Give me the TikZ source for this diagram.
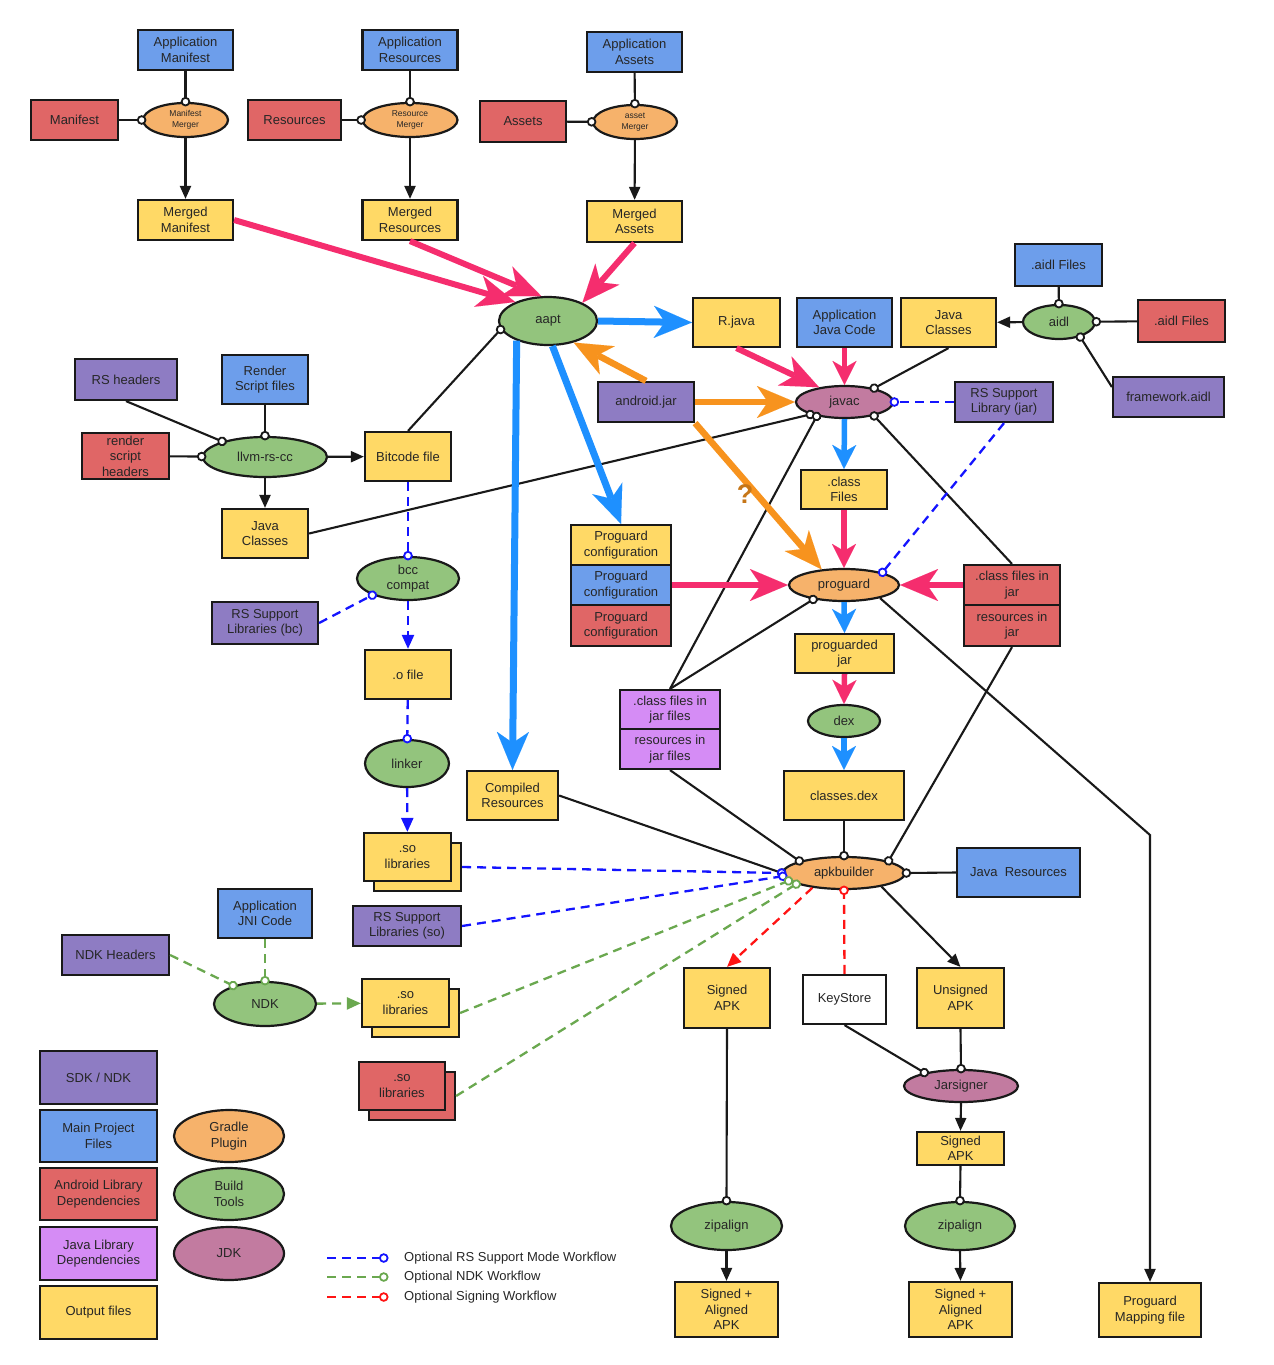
\documentclass[tikz,border=0pt]{standalone}
\usepackage{fontspec}
\setmainfont{Liberation Sans}
\usetikzlibrary{shapes.geometric,arrows.meta}
\definecolor{cBlue}{RGB}{109,158,235}
\definecolor{cRed}{RGB}{224,102,102}
\definecolor{cYel}{RGB}{255,217,102}
\definecolor{cPur}{RGB}{142,124,195}
\definecolor{cLPur}{RGB}{213,140,245}
\definecolor{cOrg}{RGB}{246,178,107}
\definecolor{cGrn}{RGB}{147,196,125}
\definecolor{cMauve}{RGB}{194,123,160}
\definecolor{aPink}{RGB}{245,45,110}
\definecolor{aBlue}{RGB}{30,144,255}
\definecolor{aOrg}{RGB}{247,147,30}
\definecolor{dBlue}{RGB}{20,20,255}
\definecolor{dGreen}{RGB}{106,168,79}
\definecolor{dRed}{RGB}{255,20,20}
\definecolor{lineC}{RGB}{25,25,25}
\newcommand\myfs{\fontsize{13}{15.5}\selectfont}
\newcommand\mysm{\fontsize{8.5}{10.5}\selectfont}
\begin{document}
\begin{tikzpicture}[x=1pt,y=-1pt,
  sz/.style 2 args={minimum width=#1pt,minimum height=#2pt},
  box/.style={draw=lineC,line width=2.2pt,rectangle,inner sep=0pt,align=center,font=\myfs,text=black!85},
  bluebox/.style={box,fill=cBlue},
  redbox/.style={box,fill=cRed},
  yelbox/.style={box,fill=cYel},
  purbox/.style={box,fill=cPur},
  lpurbox/.style={box,fill=cLPur},
  whitebox/.style={box,fill=white},
  proc/.style={draw=lineC,line width=2.2pt,ellipse,inner sep=0pt,align=center,font=\myfs,text=black!85},
  orgproc/.style={proc,fill=cOrg},
  grnproc/.style={proc,fill=cGrn},
  mauproc/.style={proc,fill=cMauve},
  conn/.style={draw=lineC,line width=2.1pt},
  ocirc/.style={-{Circle[length=9.5pt,fill=white,line width=1.8pt]},shorten >=-4.5pt},
  tri/.style={-{Triangle[length=13pt,width=11pt]}},
  inp/.style={conn,ocirc},
  outp/.style={conn,tri},
  fat/.style={line width=6pt,-{Stealth[length=38pt,width=32pt,inset=11pt,line width=0.01pt]}},
  fatsm/.style={line width=5.5pt,-{Stealth[length=24pt,width=24pt,inset=7pt,line width=0.01pt]}},
  fatpink/.style={fat,color=aPink},
  fatpinks/.style={fatsm,color=aPink},
  fatblue/.style={fat,color=aBlue,line width=7pt},
  fatblues/.style={fatsm,color=aBlue},
  fatorg/.style={fat,color=aOrg,line width=6.5pt},
  dsh/.style={line width=2.3pt,dash pattern=on 9pt off 6pt},
  bluedash/.style={dsh,draw=dBlue},
  greendash/.style={dsh,draw=dGreen},
  reddash/.style={dsh,draw=dRed},
  dtri/.style={-{Triangle[length=14pt,width=12pt]}}
]
\useasboundingbox (0,0) rectangle (1274,1365);

% ---------- top row
\node[bluebox,sz={95}{40}] (appman) at (185.5,50) {Application\\Manifest};
\node[bluebox,sz={95}{40}] (appres) at (410,50) {Application\\Resources};
\node[bluebox,sz={95}{40}] (appass) at (634.5,52) {Application\\Assets};
\node[redbox,sz={87}{40}] (manif) at (74.5,120) {Manifest};
\node[orgproc,sz={85}{34},font=\mysm] (mmerg) at (185.5,120) {Manifest\\Merger};
\node[redbox,sz={93}{40}] (resrc) at (294.5,120) {Resources};
\node[orgproc,sz={95}{34},font=\mysm] (rmerg) at (410,120) {Resource\\Merger};
\node[redbox,sz={86}{41}] (assets) at (523,121.5) {Assets};
\node[orgproc,sz={84}{34},font=\mysm] (amerg) at (635,122) {asset\\Merger};
\node[yelbox,sz={95}{40}] (mman) at (185.5,220) {Merged\\Manifest};
\node[yelbox,sz={95}{40}] (mres) at (410,220) {Merged\\Resources};
\node[yelbox,sz={95}{41}] (mass) at (634.5,221.5) {Merged\\Assets};

% ---------- aapt / javac area
\node[grnproc,sz={98}{48}] (aapt) at (548,321) {aapt};
\node[yelbox,sz={87}{49}] (rjava) at (736.5,322.5) {R.java};
\node[bluebox,sz={95}{49}] (ajc) at (844.5,322.5) {Application\\Java Code};
\node[yelbox,sz={95}{49}] (jcls2) at (948.5,322.5) {Java\\Classes};
\node[bluebox,sz={87}{42}] (aidlb) at (1058.5,265) {.aidl Files};
\node[grnproc,sz={72}{34}] (aidl) at (1059,322) {aidl};
\node[redbox,sz={87}{42}] (aidlr) at (1181.5,321) {.aidl Files};
\node[purbox,sz={111}{40}] (fwaidl) at (1168.5,397) {framework.aidl};
\node[purbox,sz={96}{40}] (ajar) at (646,402) {android.jar};
\node[mauproc,sz={97}{32}] (javac) at (844.5,402) {javac};
\node[purbox,sz={98}{40}] (rsjar) at (1004,402) {RS Support\\Library (jar)};

% ---------- RenderScript
\node[purbox,sz={102}{41}] (rsh) at (126,379.5) {RS headers};
\node[bluebox,sz={86}{49}] (rsf) at (265,379.5) {Render\\Script files};
\node[redbox,sz={87}{46}] (rsth) at (125.5,456) {render\\script\\headers};
\node[grnproc,sz={124}{40}] (llvm) at (265,457) {llvm-rs-cc};
\node[yelbox,sz={86}{49}] (bitc) at (408,456.5) {Bitcode file};
\node[yelbox,sz={86}{49}] (jcls1) at (265,533.5) {Java\\Classes};
\node[grnproc,sz={102}{43}] (bcc) at (408,578.5) {bcc\\compat};
\node[purbox,sz={106}{42}] (rsbc) at (265,623) {RS Support\\Libraries (bc)};
\node[yelbox,sz={86}{49}] (ofile) at (408,674.5) {.o file};
\node[grnproc,sz={84}{47}] (linker) at (407,763.5) {linker};

% ---------- proguard / dex
\node[yelbox,sz={86}{39}] (cfiles) at (844,489.5) {.class\\Files};
\node[yelbox,sz={100}{40}] (pc1) at (621,545) {Proguard\\configuration};
\node[bluebox,sz={100}{40}] (pc2) at (621,585) {Proguard\\configuration};
\node[redbox,sz={100}{41}] (pc3) at (621,625.5) {Proguard\\configuration};
\node[orgproc,sz={110}{32}] (proguard) at (844,585) {proguard};
\node[redbox,sz={96}{40}] (cjar) at (1012,585) {.class files in\\jar};
\node[redbox,sz={96}{41}] (rjar) at (1012,625.5) {resources in\\jar};
\node[yelbox,sz={99}{39}] (pjar) at (844.5,653.5) {proguarded\\jar};
\node[grnproc,sz={72}{32}] (dex) at (844,721) {dex};
\node[lpurbox,sz={100}{39}] (cjf) at (670,709.5) {.class files in\\jar files};
\node[lpurbox,sz={100}{40}] (rjf) at (670,749) {resources in\\jar files};
\node[yelbox,sz={91}{49}] (cres) at (512.5,795.5) {Compiled\\Resources};
\node[yelbox,sz={120}{49}] (cdex) at (844,795.5) {classes.dex};

% ---------- so libraries, apkbuilder
\node[yelbox,sz={87}{48}] (so1b) at (417.5,867) {};
\node[yelbox,sz={87}{48}] (so1) at (407.5,857) {.so\\libraries};
\node[purbox,sz={108}{40}] (rsso) at (407,926) {RS Support\\Libraries (so)};
\node[orgproc,sz={122}{32}] (apkb) at (844,873) {apkbuilder};
\node[bluebox,sz={123}{49}] (jres) at (1018.5,872.5) {Java\ \ Resources};
\node[bluebox,sz={94}{49}] (jni) at (265,913.5) {Application\\JNI Code};
\node[purbox,sz={107}{40}] (ndkh) at (115.5,955) {NDK Headers};
\node[grnproc,sz={102}{44}] (ndk) at (265,1004) {NDK};
\node[yelbox,sz={87}{48}] (so2b) at (415.5,1013) {};
\node[yelbox,sz={87}{48}] (so2) at (405.5,1003) {.so\\libraries};
\node[redbox,sz={86}{48}] (so3b) at (412,1096) {};
\node[redbox,sz={86}{48}] (so3) at (402,1086) {.so\\libraries};

% ---------- signing
\node[yelbox,sz={86}{60}] (sapk1) at (727,998) {Signed\\APK};
\node[whitebox,sz={83}{49}] (keys) at (844.5,999.5) {KeyStore};
\node[yelbox,sz={87}{60}] (uapk) at (960.5,998) {Unsigned\\APK};
\node[mauproc,sz={114}{32}] (jars) at (961,1086) {Jarsigner};
\node[yelbox,sz={87}{33}] (sapk2) at (960.5,1148.5) {Signed\\APK};
\node[grnproc,sz={111}{48}] (zip1) at (726.5,1226) {zipalign};
\node[grnproc,sz={110}{48}] (zip2) at (960,1226) {zipalign};
\node[yelbox,sz={103}{55}] (saa1) at (726.5,1309.5) {Signed +\\Aligned\\APK};
\node[yelbox,sz={103}{55}] (saa2) at (960.5,1309.5) {Signed +\\Aligned\\APK};
\node[yelbox,sz={102}{54}] (pmap) at (1150,1310) {Proguard\\Mapping file};
\coordinate (pbend) at (1150,835);

% ---------- legend
\node[purbox,sz={117}{53}] (lg1) at (98.5,1077.5) {SDK / NDK};
\node[bluebox,sz={117}{52}] (lg2) at (98.5,1136) {Main Project\\Files};
\node[redbox,sz={117}{52}] (lg3) at (98.5,1194) {Android Library\\Dependencies};
\node[lpurbox,sz={117}{53}] (lg4) at (98.5,1253.5) {Java Library\\Dependencies};
\node[yelbox,sz={117}{53}] (lg5) at (98.5,1312.5) {Output files};
\node[orgproc,sz={110}{52}] (lg6) at (229,1136) {Gradle\\Plugin};
\node[grnproc,sz={110}{52}] (lg7) at (229,1194) {Build\\Tools};
\node[mauproc,sz={110}{53}] (lg8) at (229,1253.5) {JDK};
\coordinate (lb1) at (327,1258); \coordinate (lb2) at (384,1258);
\coordinate (lg1a) at (327,1277); \coordinate (lg2a) at (384,1277);
\coordinate (lr1) at (327,1297); \coordinate (lr2) at (384,1297);
\draw[bluedash,ocirc] (lb1) -- (lb2);
\draw[greendash,ocirc] (lg1a) -- (lg2a);
\draw[reddash,ocirc] (lr1) -- (lr2);
\node[anchor=west,inner sep=0pt,font=\myfs,text=black!85] (lt1) at (404,1258) {Optional RS Support Mode Workflow};
\node[anchor=west,inner sep=0pt,font=\myfs,text=black!85] (lt2) at (404,1277) {Optional NDK Workflow};
\node[anchor=west,inner sep=0pt,font=\myfs,text=black!85] (lt3) at (404,1297) {Optional Signing Workflow};

% ---------- mergers
\draw[inp] (appman) -- (mmerg);
\draw[inp] (manif) -- (mmerg);
\draw[outp] (mmerg) -- (mman);
\draw[inp] (appres) -- (rmerg);
\draw[inp] (resrc) -- (rmerg);
\draw[outp] (rmerg) -- (mres);
\draw[inp] (appass) -- (amerg);
\draw[inp] (assets) -- (amerg);
\draw[outp] (amerg) -- (mass);

% ---------- black connectors
\draw[inp] (jcls2.south) -- (javac.25);
\draw[outp] (aidl) -- (jcls2);
\draw[inp] (aidlb) -- (aidl);
\draw[inp] (aidlr) -- (aidl);
\draw[inp] (fwaidl.170) -- (aidl.325);
\draw[inp] (bitc.north) -- (aapt.190);
\draw[inp] (jcls1.east) -- (javac.200);
\draw[inp] (cjf.north) -- (javac.207);
\draw[inp] (cjf.north) -- (proguard.205);
\draw[inp] (cjar.north) -- (javac.335);
\draw[outp] (proguard.340) -- (pbend) -- (pmap.north);
\draw[inp] (rjar.south) -- (apkb.15);
\draw[inp] (rjf.south) -- (apkb.165);
\draw[inp] (cres.east) -- (apkb.west);
\draw[inp] (cdex.south) -- (apkb.north);
\draw[inp] (jres.west) -- (apkb.east);
\draw[outp] (apkb.340) -- (uapk.north);
\draw[inp] (keys.south) -- (jars.160);
\draw[inp] (uapk.south) -- (jars.north);
\draw[outp] (jars.south) -- (sapk2.north);
\draw[inp] (sapk2.south) -- (zip2.north);
\draw[outp] (zip2.south) -- (saa2.north);
\draw[inp] (sapk1.south) -- (zip1.north);
\draw[outp] (zip1.south) -- (saa1.north);
\draw[inp] (rsh.south) -- (llvm.160);
\draw[inp] (rsf) -- (llvm);
\draw[inp] (rsth) -- (llvm);
\draw[outp] (llvm) -- (bitc);
\draw[outp] (llvm) -- (jcls1);

% ---------- dashed optional workflows
\draw[bluedash,ocirc] (bitc) -- (bcc);
\draw[bluedash,ocirc] (rsbc.east) -- (bcc.205);
\draw[bluedash,dtri] (bcc) -- (ofile);
\draw[bluedash,ocirc] (ofile) -- (linker);
\draw[bluedash,dtri] (linker) -- (so1);
\draw[bluedash,ocirc] (so1b.east) -- (apkb.180);
\draw[bluedash,ocirc] (rsso.east) -- (apkb.183);
\draw[greendash,ocirc] (so2b.east) -- (apkb.188);
\draw[greendash,ocirc] (so3b.east) -- (apkb.193);
\draw[greendash,ocirc] (ndkh.east) -- (ndk.150);
\draw[greendash,ocirc] (jni) -- (ndk);
\draw[greendash,dtri] (ndk) -- (so2);
\draw[bluedash,ocirc] (rsjar.west) -- (javac.east);
\draw[bluedash,ocirc] (rsjar.south) -- (proguard.18);
\draw[reddash,dtri] (apkb.205) -- (sapk1.north);
\draw[reddash,ocirc] (keys.north) -- (apkb.south);

% ---------- fat arrows
\draw[fatpink] (mman.east) -- (aapt.150);
\draw[fatpink] (mres.south) -- (aapt.105);
\draw[fatpink] (mass.south) -- (aapt.28);
\draw[fatpink] (rjava.south) -- (javac.150);
\draw[fatpinks] (ajc.south) -- (javac.north);
\draw[fatpinks] (cfiles.south) -- (proguard.north);
\draw[fatpink] (pc2.east) -- (proguard.west);
\draw[fatpink] (cjar.west) -- (proguard.east);
\draw[fatpinks] (pjar.south) -- (dex.north);
\draw[fatblue] (aapt.east) -- (rjava.west);
\draw[fatblue] (aapt.212) -- (cres.north);
\draw[fatblue] (aapt.280) -- (pc1.north);
\draw[fatblues] (javac.south) -- (cfiles.north);
\draw[fatblues] (proguard.south) -- (pjar.north);
\draw[fatblues] (dex.south) -- (cdex.north);
\draw[fatorg] (ajar.north) -- (aapt.320);
\draw[fatorg] (ajar.east) -- (javac.west);
\draw[fatorg] (ajar.south east) -- (proguard.145);
\node[font=\bfseries\fontsize{27}{27}\selectfont,inner sep=0pt,text=aOrg!80!black] (qm) at (745,494) {?};
\end{tikzpicture}
\end{document}
